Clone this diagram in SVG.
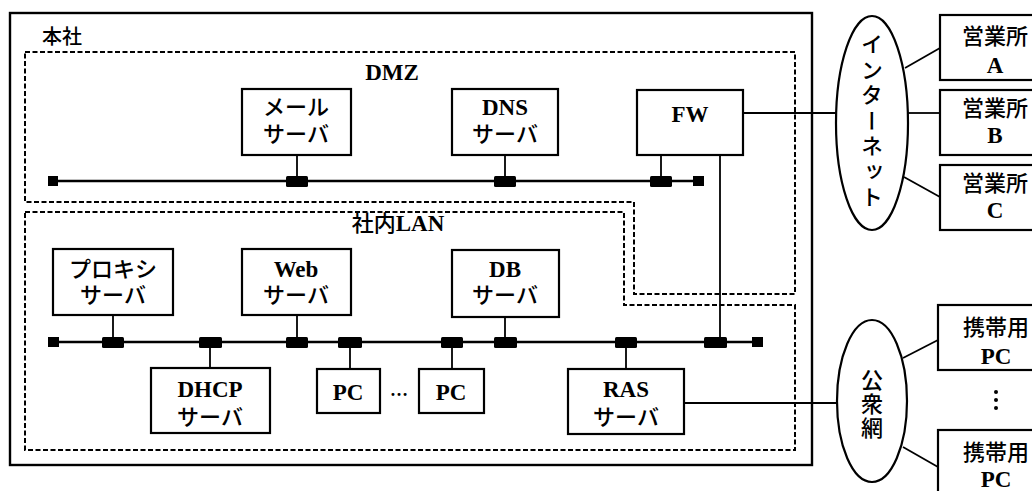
<svg xmlns="http://www.w3.org/2000/svg" width="1032" height="491" viewBox="0 0 1032 491">
<style>
  .box { fill: #fff; stroke: #000; stroke-width: 2.2; }
  .area { fill: none; stroke: #000; stroke-width: 2; stroke-dasharray: 5 2.5; }
  .bus { stroke: #000; stroke-width: 2.6; fill: none; }
  .link { stroke: #000; stroke-width: 1.8; fill: none; }
  .tap { fill: #000; }
  text { font-family: "Liberation Serif", "Noto Sans CJK JP", serif; font-size: 22px; font-weight: 500; fill: #000; text-anchor: middle; }
  .lat { font-weight: bold; font-size: 23px; }
  .vert { writing-mode: vertical-rl; text-orientation: upright; font-family: "Noto Sans CJK JP", sans-serif; }
</style>
<rect width="1032" height="491" fill="#fff"/>

<g id="honsha">
  <rect x="10" y="13" width="802" height="452" fill="none" stroke="#000" stroke-width="2.4"/>
  <text x="42" y="44" style="text-anchor:start;font-family:'Noto Sans CJK JP',sans-serif;font-size:20px">本社</text>
</g>

<g id="dmz">
  <path class="area" d="M25,52 H795 V294 H634 V202 H25 Z"/>
  <text x="392" y="80" class="lat">DMZ</text>
</g>

<g id="lan">
  <path class="area" d="M25,212 H624 V305 H795 V450 H25 Z"/>
  <text x="398" y="231">社内<tspan class="lat">LAN</tspan></text>
</g>

<g id="connectors">
  <!-- DMZ bus -->
  <line class="bus" x1="53" y1="181" x2="698" y2="181"/>
  <rect class="tap" x="48" y="176" width="10" height="10"/>
  <rect class="tap" x="693" y="176" width="11" height="10"/>
  <line class="link" x1="297" y1="155" x2="297" y2="181"/>
  <rect class="tap" x="286" y="176" width="22" height="11" rx="1.5"/>
  <line class="link" x1="505" y1="155" x2="505" y2="181"/>
  <rect class="tap" x="494" y="176" width="22" height="11" rx="1.5"/>
  <line class="link" x1="661" y1="155" x2="661" y2="181"/>
  <rect class="tap" x="650" y="176" width="22" height="11" rx="1.5"/>

  <!-- LAN bus -->
  <line class="bus" x1="53" y1="342" x2="758" y2="342"/>
  <rect class="tap" x="48" y="337" width="11" height="10"/>
  <rect class="tap" x="752" y="337" width="11" height="10"/>
  <line class="link" x1="113" y1="315" x2="113" y2="342"/>
  <rect class="tap" x="102" y="337" width="22" height="11" rx="1.5"/>
  <line class="link" x1="210" y1="342" x2="210" y2="368"/>
  <rect class="tap" x="199" y="337" width="23" height="11" rx="1.5"/>
  <line class="link" x1="297" y1="315" x2="297" y2="342"/>
  <rect class="tap" x="286" y="337" width="22" height="11" rx="1.5"/>
  <line class="link" x1="350" y1="342" x2="350" y2="369"/>
  <rect class="tap" x="338" y="337" width="24" height="11" rx="1.5"/>
  <line class="link" x1="452" y1="342" x2="452" y2="369"/>
  <rect class="tap" x="441" y="337" width="22" height="11" rx="1.5"/>
  <line class="link" x1="505" y1="317" x2="505" y2="342"/>
  <rect class="tap" x="494" y="337" width="23" height="11" rx="1.5"/>
  <line class="link" x1="626" y1="342" x2="626" y2="369"/>
  <rect class="tap" x="615" y="337" width="22" height="11" rx="1.5"/>
  <rect class="tap" x="704" y="337" width="23" height="11" rx="1.5"/>

  <!-- FW links -->
  <line class="link" x1="720" y1="155" x2="720" y2="342"/>
  <line class="link" x1="743" y1="113" x2="837" y2="113"/>
  <!-- RAS to public network -->
  <line class="link" x1="684" y1="403" x2="838" y2="403"/>
  <!-- Internet to offices -->
  <line class="link" x1="905" y1="68" x2="940" y2="48"/>
  <line class="link" x1="908" y1="113" x2="940" y2="113"/>
  <line class="link" x1="904" y1="177" x2="940" y2="197"/>
  <!-- Public network to mobile PCs -->
  <line class="link" x1="903" y1="358" x2="938" y2="340"/>
  <line class="link" x1="903" y1="447" x2="938" y2="467"/>
</g>

<g id="mail">
  <rect class="box" x="242" y="89" width="109" height="66"/>
  <text x="296" y="115">メール</text>
  <text x="296" y="142">サーバ</text>
</g>
<g id="dns">
  <rect class="box" x="452" y="89" width="106" height="66"/>
  <text x="505" y="115" class="lat">DNS</text>
  <text x="505" y="142">サーバ</text>
</g>
<g id="fw">
  <rect class="box" x="637" y="90" width="106" height="65"/>
  <text x="690" y="122" class="lat">FW</text>
</g>

<g id="proxy">
  <rect class="box" x="53" y="249" width="120" height="66"/>
  <text x="113" y="277">プロキシ</text>
  <text x="113" y="303">サーバ</text>
</g>
<g id="web">
  <rect class="box" x="242" y="249" width="109" height="66"/>
  <text x="296" y="277" class="lat">Web</text>
  <text x="296" y="303">サーバ</text>
</g>
<g id="db">
  <rect class="box" x="452" y="250" width="107" height="67"/>
  <text x="505" y="277" class="lat">DB</text>
  <text x="505" y="303">サーバ</text>
</g>
<g id="dhcp">
  <rect class="box" x="151" y="368" width="119" height="65"/>
  <text x="210" y="397" class="lat">DHCP</text>
  <text x="210" y="425">サーバ</text>
</g>
<g id="pc1">
  <rect class="box" x="317" y="369" width="63" height="44"/>
  <text x="348" y="400" class="lat">PC</text>
</g>
<g id="pcdots">
  <text x="399" y="396" style="font-size:18px;font-weight:bold">…</text>
</g>
<g id="pc2">
  <rect class="box" x="419" y="369" width="65" height="44"/>
  <text x="451" y="400" class="lat">PC</text>
</g>
<g id="ras">
  <rect class="box" x="568" y="369" width="116" height="65"/>
  <text x="626" y="397" class="lat">RAS</text>
  <text x="626" y="425">サーバ</text>
</g>

<g id="internet">
  <ellipse cx="872" cy="123" rx="36" ry="107" fill="#fff" stroke="#000" stroke-width="2.2"/>
  <text x="872" y="122" class="vert" style="font-size:22px;letter-spacing:3.5px">インターネット</text>
</g>
<g id="public">
  <ellipse cx="872" cy="401" rx="35" ry="81" fill="#fff" stroke="#000" stroke-width="2.2"/>
  <text x="872" y="405" class="vert" style="font-size:22px;letter-spacing:2px">公衆網</text>
</g>

<g id="officeA">
  <rect class="box" x="940" y="15" width="110" height="65"/>
  <text x="995" y="44">営業所</text>
  <text x="995" y="73" class="lat">A</text>
</g>
<g id="officeB">
  <rect class="box" x="940" y="90" width="110" height="65"/>
  <text x="995" y="116">営業所</text>
  <text x="995" y="143" class="lat">B</text>
</g>
<g id="officeC">
  <rect class="box" x="940" y="165" width="110" height="65"/>
  <text x="995" y="191">営業所</text>
  <text x="995" y="218" class="lat">C</text>
</g>

<g id="mobile1">
  <rect class="box" x="938" y="305" width="112" height="65"/>
  <text x="996" y="335">携帯用</text>
  <text x="996" y="364" class="lat">PC</text>
</g>
<g id="mobiledots">
  <circle cx="996" cy="392" r="2"/>
  <circle cx="996" cy="400" r="2"/>
  <circle cx="996" cy="408" r="2"/>
</g>
<g id="mobile2">
  <rect class="box" x="938" y="430" width="112" height="80"/>
  <text x="996" y="460">携帯用</text>
  <text x="996" y="487" class="lat">PC</text>
</g>
</svg>
